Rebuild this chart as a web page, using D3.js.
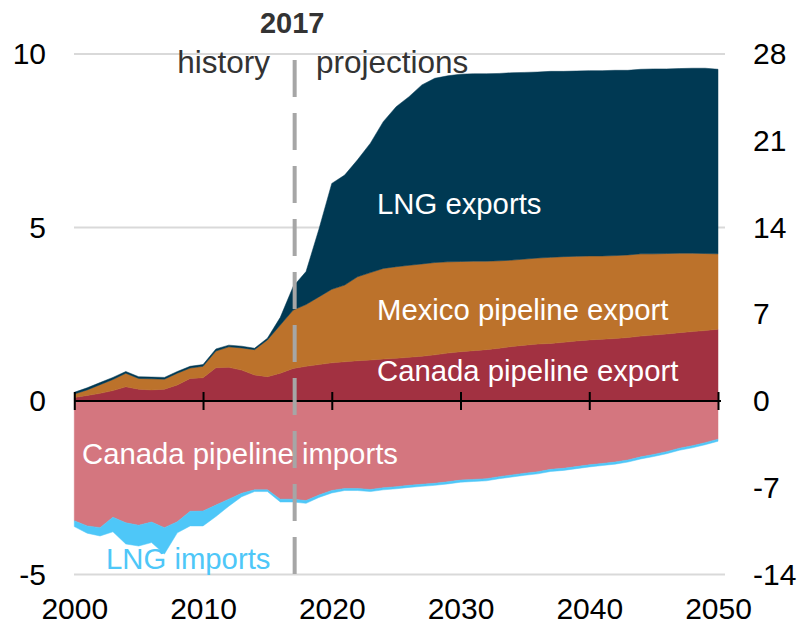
<!DOCTYPE html>
<html>
<head>
<meta charset="utf-8">
<script src="https://cdn.jsdelivr.net/npm/d3@7"></script>
<style>
  body { margin: 0; background: #fff; }
  svg { font-family: "Liberation Sans", Arial, sans-serif; }
</style>
</head>
<body>
<div id="chart"></div>
<script>
const width = 800;
const height = 625;

// years on the x axis
const years = d3.range(2000, 2051);

// exports (positive) and imports (negative)
const canadaExports = [0.10, 0.16, 0.22, 0.30, 0.41, 0.34, 0.32, 0.34, 0.46, 0.65,
  0.67, 0.96, 0.97, 0.89, 0.75, 0.70, 0.80, 0.94, 1.00, 1.05,
  1.10, 1.13, 1.16, 1.18, 1.21, 1.23, 1.26, 1.29, 1.33, 1.38,
  1.42, 1.45, 1.48, 1.52, 1.57, 1.61, 1.64, 1.66, 1.69, 1.73,
  1.76, 1.78, 1.80, 1.83, 1.87, 1.90, 1.93, 1.97, 2.00, 2.03, 2.07];
const mexicoExports = [0.10, 0.16, 0.25, 0.32, 0.39, 0.31, 0.32, 0.29, 0.34, 0.30,
  0.33, 0.48, 0.59, 0.64, 0.73, 1.06, 1.39, 1.68, 1.78, 1.95,
  2.12, 2.21, 2.42, 2.52, 2.61, 2.64, 2.65, 2.66, 2.66, 2.63,
  2.60, 2.58, 2.55, 2.52, 2.49, 2.48, 2.48, 2.48, 2.47, 2.44,
  2.42, 2.40, 2.39, 2.38, 2.37, 2.34, 2.32, 2.29, 2.26, 2.22, 2.17];
const lngExports = [0.05, 0.06, 0.06, 0.06, 0.05, 0.05, 0.05, 0.05, 0.05, 0.05,
  0.05, 0.06, 0.05, 0.05, 0.04, 0.05, 0.22, 0.68, 0.95, 1.95,
  3.05, 3.17, 3.37, 3.73, 4.23, 4.61, 4.86, 5.16, 5.31, 5.36,
  5.40, 5.40, 5.40, 5.40, 5.40, 5.38, 5.36, 5.36, 5.34, 5.34,
  5.34, 5.34, 5.34, 5.32, 5.32, 5.33, 5.32, 5.32, 5.33, 5.34, 5.32];
const canadaImports = [-3.45, -3.60, -3.65, -3.35, -3.51, -3.58, -3.49, -3.65, -3.48, -3.18,
  -3.17, -3.00, -2.83, -2.66, -2.56, -2.56, -2.83, -2.83, -2.87, -2.71,
  -2.58, -2.52, -2.52, -2.55, -2.50, -2.47, -2.43, -2.40, -2.37, -2.33,
  -2.28, -2.26, -2.24, -2.18, -2.13, -2.08, -2.04, -1.97, -1.94, -1.89,
  -1.84, -1.80, -1.76, -1.70, -1.61, -1.54, -1.46, -1.36, -1.29, -1.20, -1.10];
const lngImports = [-0.17, -0.21, -0.24, -0.42, -0.61, -0.60, -0.59, -0.76, -0.32, -0.42,
  -0.43, -0.33, -0.20, -0.10, -0.05, -0.05, -0.08, -0.08, -0.08, -0.07,
  -0.07, -0.06, -0.06, -0.06, -0.06, -0.06, -0.06, -0.06, -0.06, -0.06,
  -0.06, -0.06, -0.06, -0.06, -0.06, -0.06, -0.06, -0.06, -0.06, -0.06,
  -0.06, -0.06, -0.06, -0.06, -0.06, -0.06, -0.06, -0.06, -0.06, -0.06, -0.06];

const seriesKeys = ["canadaExp", "mexicoExp", "lngExp", "canadaImp", "lngImp"];
const seriesColors = ["#a23141", "#bc722b", "#003953", "#d4767f", "#4ec7f8"];

const leftTicks = [-5, 0, 5, 10];
const rightTicks = [-14, -7, 0, 7, 14, 21, 28];
const xTicks = [2000, 2010, 2020, 2030, 2040, 2050];
const dividerYear = 2017;

const rows = years.map((yr, i) => ({
  year: yr,
  canadaExp: canadaExports[i],
  mexicoExp: mexicoExports[i],
  lngExp: lngExports[i],
  canadaImp: canadaImports[i],
  lngImp: lngImports[i]
}));

const x = d3.scaleLinear().domain([2000, 2050]).range([74.3, 718]);
const y = d3.scaleLinear().domain([-5, 10]).range([574.5, 54]);
const yRight = d3.scaleLinear().domain([-14, 28]).range([574.5, 54]);

// plain hyphen for negatives, like the original
const plain = (d) => String(d);

const svg = d3.select("#chart")
  .append("svg")
  .attr("width", width)
  .attr("height", height);

// light gridlines
svg.append("g")
  .selectAll("line")
  .data(leftTicks.filter((d) => d !== 0))
  .join("line")
  .attr("x1", 74)
  .attr("x2", 725)
  .attr("y1", (d) => y(d))
  .attr("y2", (d) => y(d))
  .attr("stroke", "#d9d9d9")
  .attr("stroke-width", 2);

const stacked = d3.stack()
  .keys(seriesKeys)
  .offset(d3.stackOffsetDiverging)(rows);

const area = d3.area()
  .x((d) => x(d.data.year))
  .y0((d) => y(d[0]))
  .y1((d) => y(d[1]));

svg.append("g")
  .selectAll("path")
  .data(stacked)
  .join("path")
  .attr("fill", (d, i) => seriesColors[i])
  .attr("stroke", (d, i) => seriesColors[i])
  .attr("stroke-width", 0.5)
  .attr("d", area);

// zero line with crossing ticks
const zeroAxis = svg.append("g")
  .attr("transform", `translate(0,${y(0)})`)
  .call(d3.axisBottom(x).tickValues(xTicks).tickSize(9).tickFormat(""));
zeroAxis.select(".domain").remove();
zeroAxis.selectAll(".tick line")
  .attr("y1", -9)
  .attr("stroke", "#000")
  .attr("stroke-width", 2);
svg.append("line")
  .attr("x1", 74)
  .attr("x2", 721)
  .attr("y1", y(0))
  .attr("y2", y(0))
  .attr("stroke", "#000")
  .attr("stroke-width", 2);

// year labels along the bottom
const bottomAxis = svg.append("g")
  .attr("transform", "translate(0,598)")
  .call(d3.axisBottom(x).tickValues(xTicks).tickSize(0).tickFormat(plain));
bottomAxis.select(".domain").remove();
bottomAxis.selectAll("text")
  .attr("y", 0)
  .attr("dy", "0.71em")
  .attr("fill", "#000")
  .style("font-size", "30px")
  .style("font-family", "Liberation Sans, Arial, sans-serif");

const leftAxis = svg.append("g")
  .attr("transform", "translate(46,0)")
  .call(d3.axisLeft(y).tickValues(leftTicks).tickSize(0).tickPadding(0).tickFormat(plain));
leftAxis.select(".domain").remove();
leftAxis.selectAll("text")
  .attr("fill", "#000")
  .style("font-size", "30px")
  .style("font-family", "Liberation Sans, Arial, sans-serif");

const rightAxis = svg.append("g")
  .attr("transform", "translate(753,0)")
  .call(d3.axisRight(yRight).tickValues(rightTicks).tickSize(0).tickPadding(0).tickFormat(plain));
rightAxis.select(".domain").remove();
rightAxis.selectAll("text")
  .attr("fill", "#000")
  .style("font-size", "30px")
  .style("font-family", "Liberation Sans, Arial, sans-serif");

// history / projections divider
svg.append("line")
  .attr("x1", x(dividerYear) + 1.5)
  .attr("x2", x(dividerYear) + 1.5)
  .attr("y1", 60)
  .attr("y2", 575)
  .attr("stroke", "#a6a6a6")
  .attr("stroke-width", 4)
  .attr("stroke-dasharray", "37 16");

svg.append("text")
  .attr("x", x(dividerYear) - 1)
  .attr("y", 33)
  .attr("text-anchor", "middle")
  .attr("font-weight", "bold")
  .attr("font-size", 29)
  .attr("fill", "#333")
  .text("2017");

svg.append("text")
  .attr("x", 270)
  .attr("y", 73)
  .attr("text-anchor", "end")
  .attr("font-size", 31.5)
  .attr("fill", "#333")
  .text("history");

svg.append("text")
  .attr("x", 316)
  .attr("y", 73)
  .attr("font-size", 31.5)
  .attr("fill", "#333")
  .text("projections");

// series labels
const labels = [
  { text: "LNG exports", x: 377, y: 214, color: "#fff" },
  { text: "Mexico pipeline export", x: 377, y: 320, color: "#fff" },
  { text: "Canada pipeline export", x: 377, y: 381, color: "#fff" },
  { text: "Canada pipeline imports", x: 82, y: 464, color: "#fff" },
  { text: "LNG imports", x: 106, y: 569, color: "#4ec7f8" }
];

svg.append("g")
  .selectAll("text")
  .data(labels)
  .join("text")
  .attr("x", (d) => d.x)
  .attr("y", (d) => d.y)
  .attr("font-size", 29.3)
  .attr("fill", (d) => d.color)
  .text((d) => d.text);
</script>
</body>
</html>
